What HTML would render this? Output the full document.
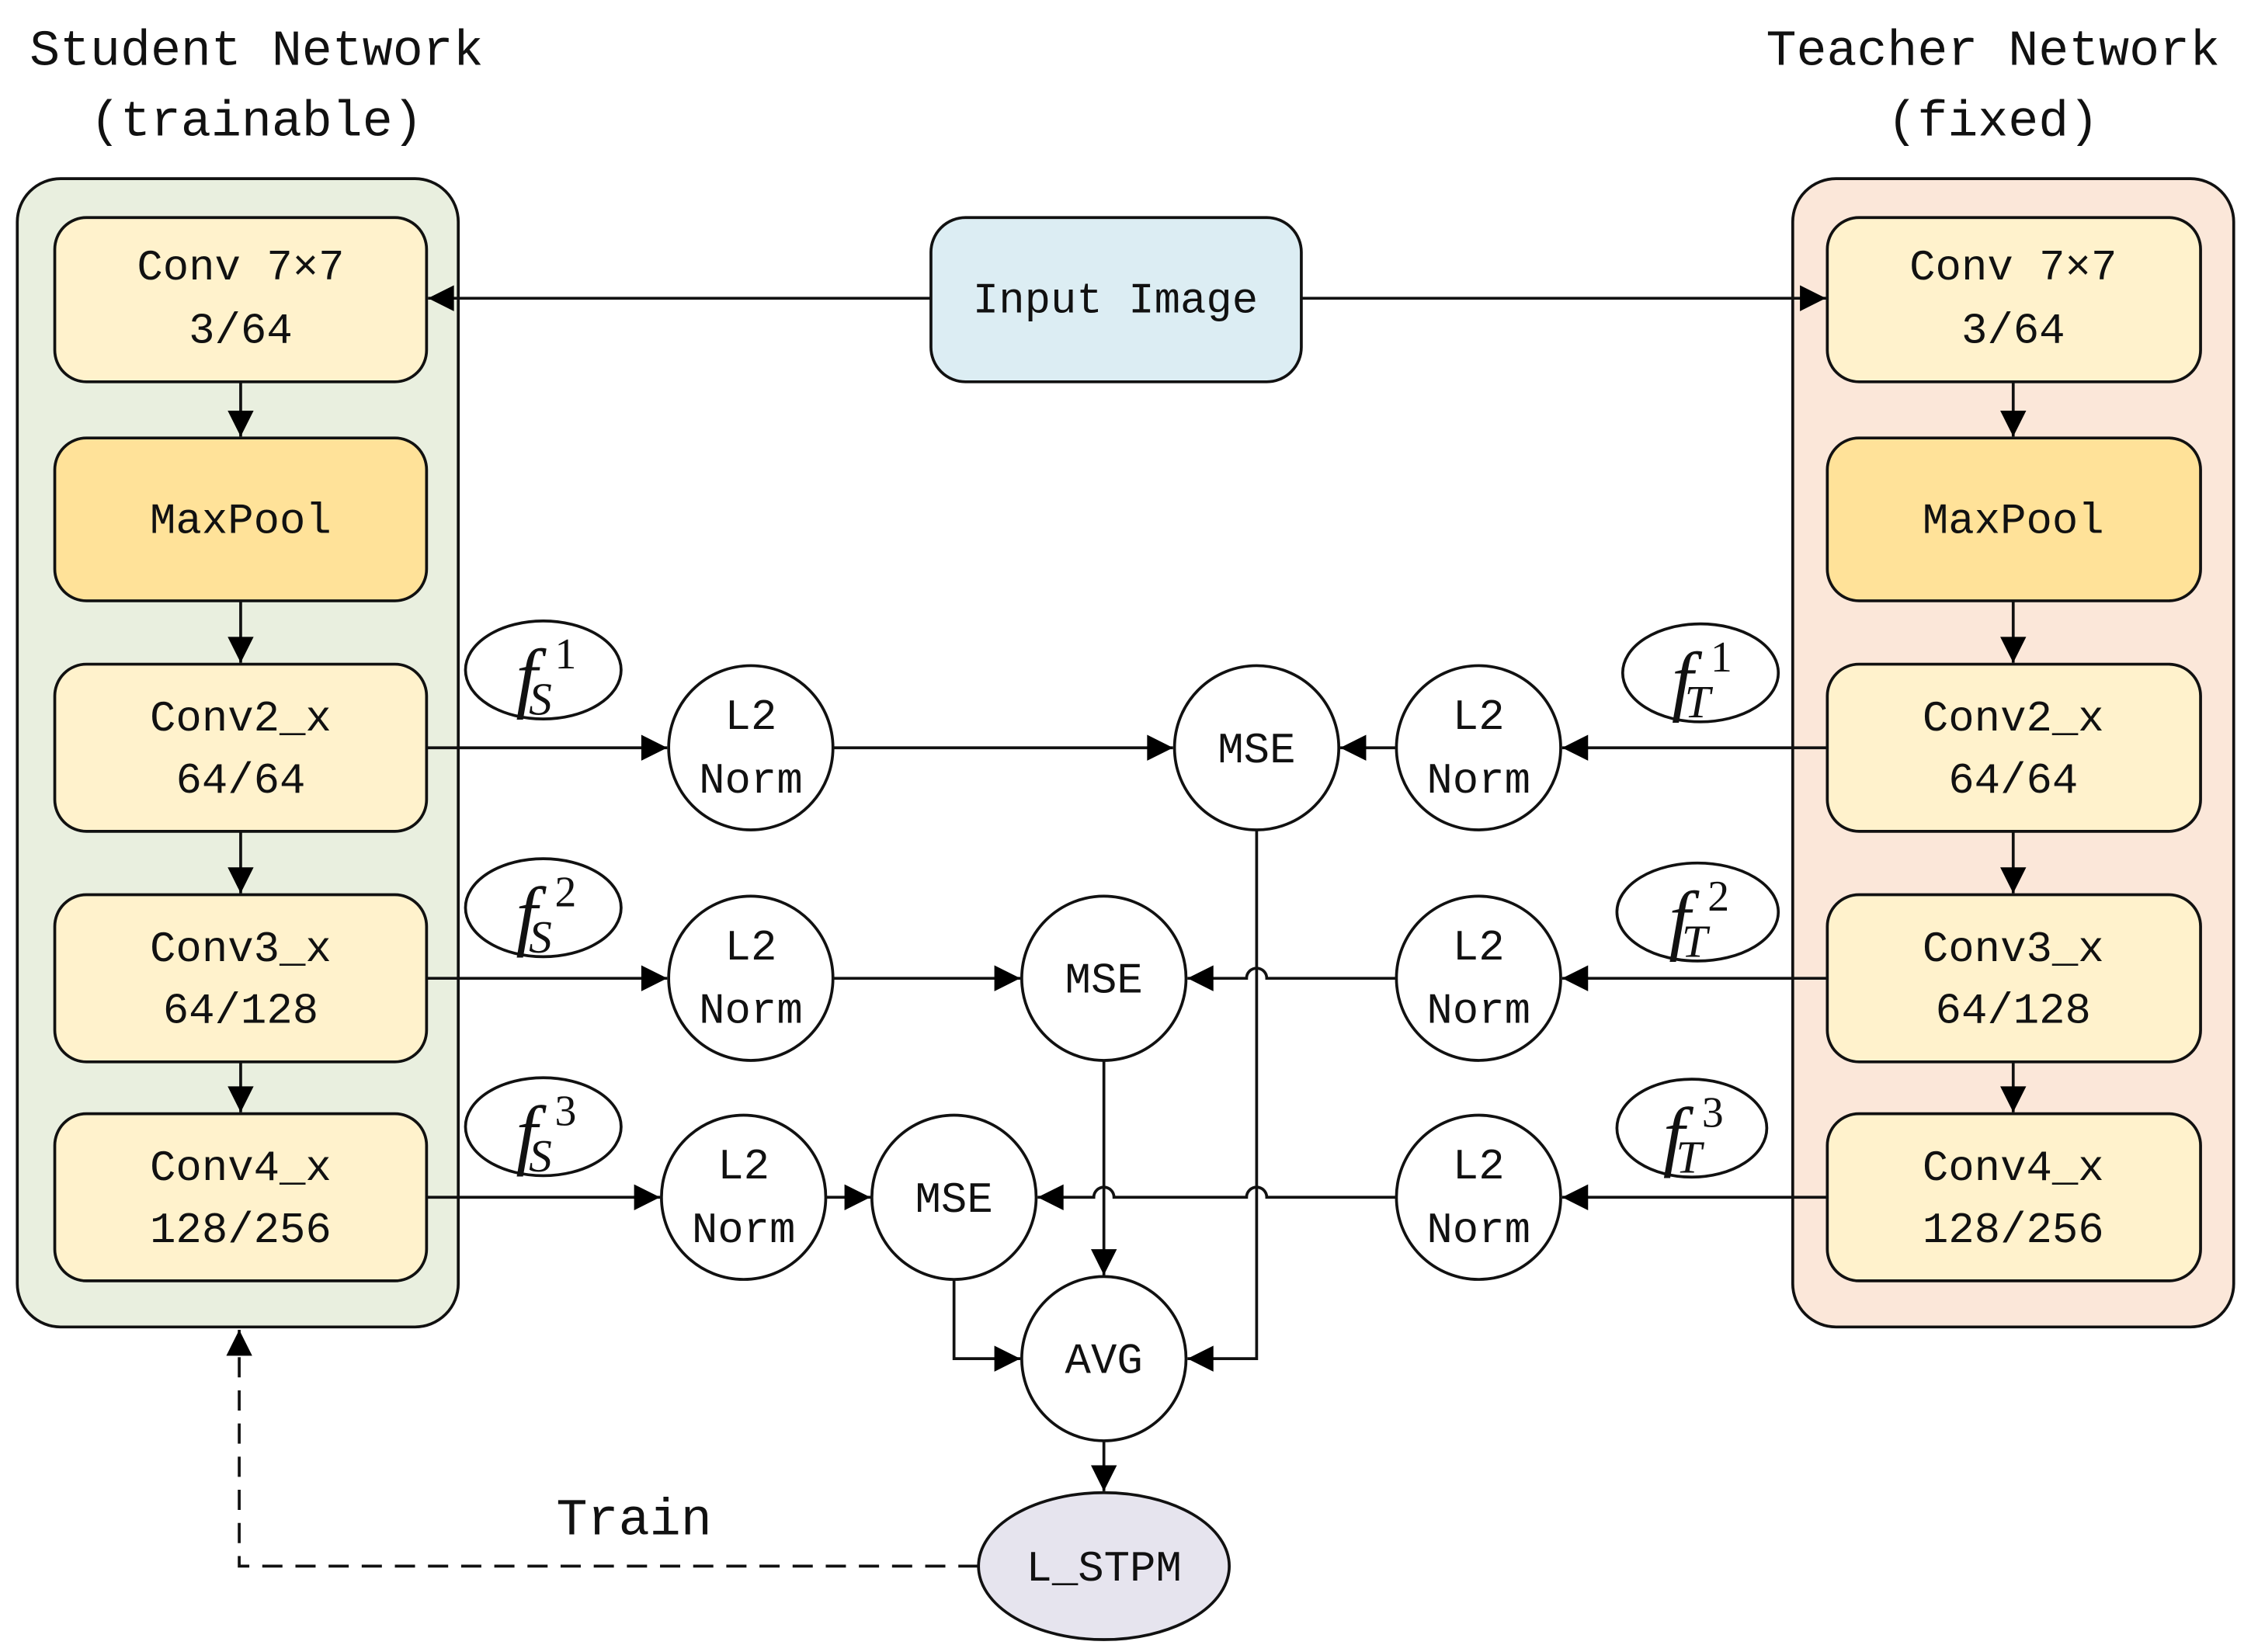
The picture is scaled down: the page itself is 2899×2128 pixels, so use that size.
<!DOCTYPE html>
<html><head><meta charset="utf-8"><style>html,body{margin:0;padding:0;background:#fff}svg{display:block}</style></head><body>
<svg xmlns="http://www.w3.org/2000/svg" width="2899" height="2128" viewBox="0 0 1562 1146.6" preserveAspectRatio="none">
<defs>
<marker id="a" viewBox="0 0 10 10" refX="10" refY="5" markerWidth="10" markerHeight="9" markerUnits="strokeWidth" orient="auto"><path d="M0,0 L10,5 L0,10 z" fill="#000"/></marker>
</defs>
<g font-family="Liberation Mono, monospace" fill="#111" text-anchor="middle">
<text x="178" y="45" font-size="35">Student Network</text>
<text x="178" y="94" font-size="35">(trainable)</text>
<text x="1383" y="45" font-size="35">Teacher Network</text>
<text x="1383" y="94" font-size="35">(fixed)</text>
</g>
<rect x="12" y="124" width="306" height="797" rx="30" fill="#e9efdf" stroke="#111" stroke-width="2"/>
<rect x="1244" y="124" width="306" height="797" rx="30" fill="#fbe7d9" stroke="#111" stroke-width="2"/>
<g stroke="#111" stroke-width="2">
<rect x="38" y="151" width="258" height="114" rx="22" fill="#fff2cc"/>
<rect x="38" y="304" width="258" height="113" rx="22" fill="#ffe299"/>
<rect x="38" y="461" width="258" height="116" rx="22" fill="#fff2cc"/>
<rect x="38" y="621" width="258" height="116" rx="22" fill="#fff2cc"/>
<rect x="38" y="773" width="258" height="116" rx="22" fill="#fff2cc"/>
<rect x="1268" y="151" width="259" height="114" rx="22" fill="#fff2cc"/>
<rect x="1268" y="304" width="259" height="113" rx="22" fill="#ffe299"/>
<rect x="1268" y="461" width="259" height="116" rx="22" fill="#fff2cc"/>
<rect x="1268" y="621" width="259" height="116" rx="22" fill="#fff2cc"/>
<rect x="1268" y="773" width="259" height="116" rx="22" fill="#fff2cc"/>
<rect x="646" y="151" width="257" height="114" rx="24" fill="#dcedf3"/>
</g>
<g font-family="Liberation Mono, monospace" font-size="30" fill="#111" text-anchor="middle">
<text x="167" y="194">Conv 7×7</text><text x="167" y="238">3/64</text>
<text x="167" y="370">MaxPool</text>
<text x="167" y="507">Conv2_x</text><text x="167" y="550">64/64</text>
<text x="167" y="667">Conv3_x</text><text x="167" y="710">64/128</text>
<text x="167" y="819">Conv4_x</text><text x="167" y="862">128/256</text>
<text x="1397" y="194">Conv 7×7</text><text x="1397" y="238">3/64</text>
<text x="1397" y="370">MaxPool</text>
<text x="1397" y="507">Conv2_x</text><text x="1397" y="550">64/64</text>
<text x="1397" y="667">Conv3_x</text><text x="1397" y="710">64/128</text>
<text x="1397" y="819">Conv4_x</text><text x="1397" y="862">128/256</text>
<text x="774" y="217">Input Image</text>
</g>
<g stroke="#111" stroke-width="2" fill="#fff">
<circle cx="521" cy="519" r="57"/><circle cx="521" cy="679" r="57"/><circle cx="516" cy="831" r="57"/>
<circle cx="1026" cy="519" r="57"/><circle cx="1026" cy="679" r="57"/><circle cx="1026" cy="831" r="57"/>
<circle cx="872" cy="519" r="57"/><circle cx="766" cy="679" r="57"/><circle cx="662" cy="831" r="57"/>
<circle cx="766" cy="943" r="57"/>
<ellipse cx="766" cy="1087" rx="87" ry="51" fill="#e6e4ee"/>
<ellipse cx="377" cy="465" rx="54" ry="34"/><ellipse cx="377" cy="630" rx="54" ry="34"/><ellipse cx="377" cy="782" rx="54" ry="34"/>
<ellipse cx="1180" cy="467" rx="54" ry="34"/><ellipse cx="1178" cy="633" rx="56" ry="34"/><ellipse cx="1174" cy="783" rx="52" ry="34"/>
</g>
<g font-family="Liberation Mono, monospace" font-size="30" fill="#111" text-anchor="middle">
<text x="521" y="506">L2</text><text x="521" y="550">Norm</text>
<text x="521" y="666">L2</text><text x="521" y="710">Norm</text>
<text x="516" y="818">L2</text><text x="516" y="862">Norm</text>
<text x="1026" y="506">L2</text><text x="1026" y="550">Norm</text>
<text x="1026" y="666">L2</text><text x="1026" y="710">Norm</text>
<text x="1026" y="818">L2</text><text x="1026" y="862">Norm</text>
<text x="872" y="529">MSE</text><text x="766" y="689">MSE</text><text x="662" y="841">MSE</text>
<text x="766" y="953">AVG</text><text x="766" y="1097">L_STPM</text>
<text x="440" y="1065" font-size="36">Train</text>
</g>
<g font-family="Liberation Serif, serif" font-style="italic" fill="#111">
<text x="358" y="488" font-size="54">f</text><text x="367" y="496" font-size="32">S</text><text x="385" y="464" font-size="30" font-style="normal">1</text>
<text x="358" y="653" font-size="54">f</text><text x="367" y="661" font-size="32">S</text><text x="385" y="629" font-size="30" font-style="normal">2</text>
<text x="358" y="805" font-size="54">f</text><text x="367" y="813" font-size="32">S</text><text x="385" y="781" font-size="30" font-style="normal">3</text>
<text x="1160" y="490" font-size="54">f</text><text x="1169" y="498" font-size="32">T</text><text x="1187" y="466" font-size="30" font-style="normal">1</text>
<text x="1158" y="656" font-size="54">f</text><text x="1167" y="664" font-size="32">T</text><text x="1185" y="632" font-size="30" font-style="normal">2</text>
<text x="1154" y="806" font-size="54">f</text><text x="1163" y="814" font-size="32">T</text><text x="1181" y="782" font-size="30" font-style="normal">3</text>
</g>
<g stroke="#111" stroke-width="2" fill="none" marker-end="url(#a)">
<line x1="646" y1="207" x2="297" y2="207"/>
<line x1="903" y1="207" x2="1267" y2="207"/>
<line x1="167" y1="265" x2="167" y2="303"/><line x1="167" y1="417" x2="167" y2="460"/><line x1="167" y1="577" x2="167" y2="620"/><line x1="167" y1="737" x2="167" y2="772"/>
<line x1="1397" y1="265" x2="1397" y2="303"/><line x1="1397" y1="417" x2="1397" y2="460"/><line x1="1397" y1="577" x2="1397" y2="620"/><line x1="1397" y1="737" x2="1397" y2="772"/>
<line x1="296" y1="519" x2="463" y2="519"/><line x1="578" y1="519" x2="814" y2="519"/>
<line x1="1268" y1="519" x2="1084" y2="519"/><line x1="969" y1="519" x2="930" y2="519"/>
<line x1="296" y1="679" x2="463" y2="679"/><line x1="578" y1="679" x2="708" y2="679"/>
<line x1="1268" y1="679" x2="1084" y2="679"/>
<path d="M969,679 H879 a7,7 0 0 0 -14,0 H824"/>
<line x1="296" y1="831" x2="458" y2="831"/><line x1="573" y1="831" x2="604" y2="831"/>
<line x1="1268" y1="831" x2="1084" y2="831"/>
<path d="M969,831 H879 a7,7 0 0 0 -14,0 H773 a7,7 0 0 0 -14,0 H720"/>
<path d="M872,576 V943 H824"/>
<path d="M766,736 V885"/>
<path d="M662,888 V943 H708"/>
<path d="M766,1000 V1035"/>
<path d="M679,1087 H166 V923" stroke-dasharray="14,9"/>
</g>
</svg>
</body></html>
